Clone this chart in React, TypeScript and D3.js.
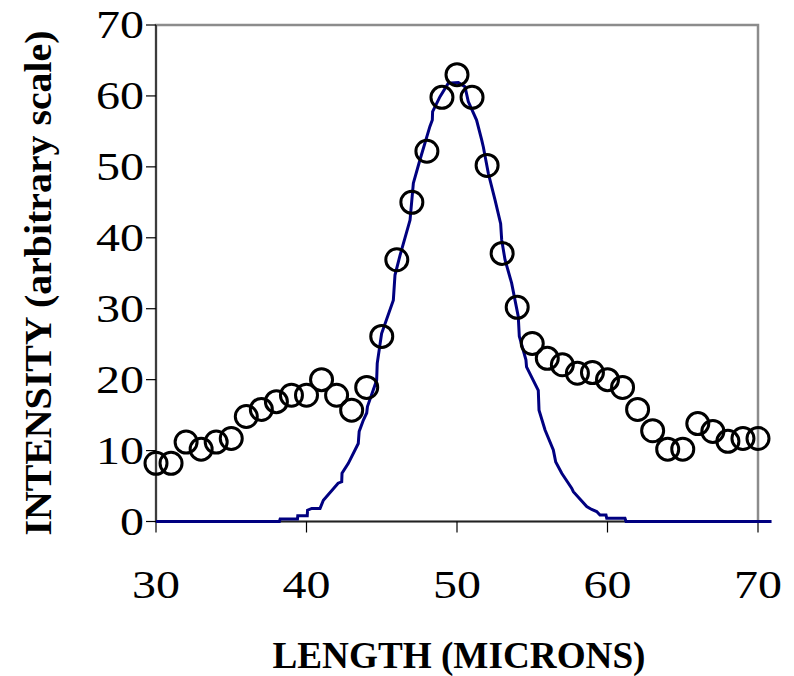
import React from 'react';
import * as d3 from 'd3';

// measured intensity (circles), one per micron from 30 to 70
const pointX = [30, 31, 32, 33, 34, 35, 36, 37, 38, 39, 40, 41, 42, 43, 44, 45, 46, 47, 48, 49, 50,
  51, 52, 53, 54, 55, 56, 57, 58, 59, 60, 61, 62, 63, 64, 65, 66, 67, 68, 69, 70];
const pointY = [8.2, 8.2, 11.2, 10.2, 11.2, 11.7, 14.8, 15.8, 16.9, 17.8, 17.8, 20.0, 17.8, 15.7, 18.9, 26.1,
  36.9, 45.0, 52.2, 59.8, 63.0, 59.8, 50.2, 37.8, 30.2, 25.1, 23.0, 22.1, 20.9, 21.0, 20.0, 18.9, 15.8,
  12.8, 10.2, 10.2, 13.8, 12.7, 11.3, 11.7, 11.7];

// fitted profile (blue line)
const curveX = [30, 38.2, 38.25, 39.4, 39.42, 40.05, 40.07, 40.35, 40.9, 41.12, 42.1, 42.34, 42.36, 42.78,
  43.44, 43.5, 43.78, 44.0, 44.05, 44.66, 44.7, 44.99, 45.77, 45.88, 46.21, 46.88, 47.1, 47.54, 48.2, 48.36,
  48.38, 48.87, 49.42, 50.09, 50.53, 50.75, 51.3, 51.64, 51.75, 52.08, 52.53, 52.9, 52.97, 53.19, 53.63,
  54.07, 54.14, 54.58, 54.62, 55.4, 55.45, 55.85, 56.4, 56.56, 56.96, 57.62, 57.73, 58.62, 58.95, 59.28,
  59.5, 59.9, 59.95, 61.16, 61.23, 70.9];
const curveY = [0, 0, 0.35, 0.35, 0.8, 0.8, 1.6, 1.85, 1.85, 3.0, 5.4, 5.6, 6.8, 8.2,
  11.0, 12.7, 14.3, 15.3, 16.2, 19.9, 22.3, 26.5, 31.2, 34.75, 37.5, 42.5, 47.7, 51.0, 55.7, 56.6,
  57.8, 59.9, 61.8, 61.9, 61.3, 59.2, 56.6, 53.8, 52.8, 49.1, 45.3, 42.0, 39.7, 36.9, 33.6,
  28.9, 26.1, 22.8, 21.8, 18.5, 15.7, 12.9, 10.1, 8.4, 6.8, 4.7, 4.2, 2.1, 1.7, 1.4,
  0.9, 0.9, 0.45, 0.45, 0, 0];

const xTicks = [30, 40, 50, 60, 70];
const yTicks = [0, 10, 20, 30, 40, 50, 60, 70];

const W = 794;
const H = 676;
const left = 156;
const right = 758;
const top = 25;
const bottom = 521.5;

export default function App() {
  const x = d3.scaleLinear().domain([30, 70]).range([left, right]);
  const y = d3.scaleLinear().domain([0, 70]).range([bottom, top]);
  const path = d3.line<number>()
    .x((d, i) => x(curveX[i]))
    .y(d => y(d))(curveY) || '';
  const font = "'Times New Roman', 'Liberation Serif', Times, serif";
  const digitW = 24;

  return (
    <svg width={W} height={H} style={{ position: 'absolute', left: 0, top: 0 }}>
      <rect x={0} y={0} width={W} height={H} fill="white" />
      <rect x={left} y={top} width={right - left} height={bottom - top}
        fill="none" stroke="#8c8c8c" strokeWidth={2.5} />
      <line x1={left} x2={left} y1={top} y2={bottom} stroke="#222" strokeWidth={1.5} />
      <line x1={left} x2={right} y1={bottom} y2={bottom} stroke="#222" strokeWidth={1.5} />
      {yTicks.map(t => (
        <g key={'y' + t}>
          <line x1={left - 10} x2={left} y1={y(t)} y2={y(t)} stroke="#000" strokeWidth={1.2} />
          <text x={left - 12} y={y(t) + 13} textAnchor="end" style={{ fontFamily: font }} fontSize={39}
            textLength={String(t).length * digitW} lengthAdjust="spacingAndGlyphs">{t}</text>
        </g>
      ))}
      {xTicks.map(t => (
        <g key={'x' + t}>
          <line x1={x(t)} x2={x(t)} y1={bottom} y2={bottom + 11} stroke="#000" strokeWidth={1.2} />
          <text x={x(t)} y={bottom + 76} textAnchor="middle" style={{ fontFamily: font }} fontSize={39}
            textLength={String(t).length * digitW} lengthAdjust="spacingAndGlyphs">{t}</text>
        </g>
      ))}
      <path d={path} fill="none" stroke="#000080" strokeWidth={3} />
      {pointX.map((px, i) => (
        <circle key={'c' + i} cx={x(px)} cy={y(pointY[i])} r={11}
          fill="none" stroke="#000" strokeWidth={3} />
      ))}
      <text x={459} y={668} textAnchor="middle" style={{ fontFamily: font }} fontSize={38} fontWeight="bold"
        textLength={373} lengthAdjust="spacingAndGlyphs">LENGTH (MICRONS)</text>
      <text transform={`translate(51, 283) rotate(-90)`} textAnchor="middle" style={{ fontFamily: font }}
        fontSize={37} fontWeight="bold" textLength={505} lengthAdjust="spacingAndGlyphs">
        INTENSITY (arbitrary scale)
      </text>
    </svg>
  );
}
